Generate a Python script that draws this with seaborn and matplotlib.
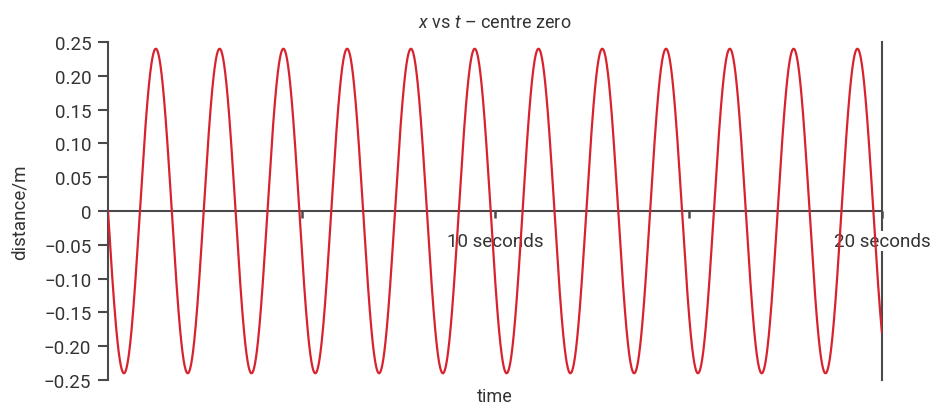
import numpy as np
import pandas as pd
import matplotlib
matplotlib.use("Agg")
import matplotlib.pyplot as plt
import seaborn as sns

# Oscillation parameters
amplitude_m = 0.24
period_s = 1.648
duration_s = 20.0

# Axis ticks and labels
y_ticks = [-0.25, -0.20, -0.15, -0.10, -0.05, 0, 0.05, 0.10, 0.15, 0.20, 0.25]
y_tick_labels = ["\u22120.25", "\u22120.20", "\u22120.15", "\u22120.10", "\u22120.05",
                 "0", "0.05", "0.10", "0.15", "0.20", "0.25"]
x_ticks = [5, 10, 15, 20]
x_tick_labels = ["", "10 seconds", "", "20 seconds"]

t = np.linspace(0, duration_s, 4000)
x = -amplitude_m * np.sin(2 * np.pi * t / period_s)
df = pd.DataFrame({"time": t, "distance": x})

sns.set_style("white")
plt.rcParams["font.family"] = ["Roboto", "DejaVu Sans"]
plt.rcParams["mathtext.fontset"] = "custom"
plt.rcParams["mathtext.it"] = "Roboto:italic"
plt.rcParams["mathtext.rm"] = "Roboto"

text_col = "#333333"
axis_col = "#4a4a4a"

fig = plt.figure(figsize=(9.34, 4.06), dpi=100)
ax = fig.add_axes([108 / 934, 1 - 381 / 406, (882 - 108) / 934, (381 - 43) / 406])

sns.lineplot(data=df, x="time", y="distance", ax=ax, color="#d8232f",
             linewidth=1.6, zorder=3)

ax.set_xlim(0, duration_s)
ax.set_ylim(-0.25, 0.25)

# zero line carries the time axis
ax.spines["bottom"].set_position(("data", 0))
ax.spines["top"].set_visible(False)
for side in ("left", "right", "bottom"):
    ax.spines[side].set_color(axis_col)
    ax.spines[side].set_linewidth(1.5)
ax.spines["right"].set_zorder(1)
ax.spines["left"].set_zorder(2.5)
ax.spines["bottom"].set_zorder(2.5)
ax.xaxis.set_zorder(1.5)

ax.set_yticks(y_ticks)
ax.set_yticklabels(y_tick_labels)
ax.set_xticks(x_ticks)
ax.set_xticklabels(x_tick_labels)

ax.tick_params(axis="y", direction="out", length=7, width=1.5, color=axis_col,
               labelsize=13.5, labelcolor=text_col, pad=5, left=True)
ax.tick_params(axis="x", direction="out", length=5, width=1.8, color=axis_col,
               labelsize=13.5, labelcolor=text_col, pad=10, bottom=True)
for lbl in ax.get_xticklabels():
    lbl.set_bbox(dict(facecolor="white", edgecolor="none", pad=1))

ax.set_xlabel("time", fontsize=13, color=text_col)
ax.xaxis.set_label_coords(0.5, -0.022)
ax.set_ylabel("distance/m", fontsize=13.5, color=text_col)
ax.yaxis.set_label_coords(-0.103, 0.5)

ax.set_title("$x$ vs $t$ \u2013 centre zero", fontsize=13, color=text_col, pad=11)

fig.savefig("out.png", dpi=100, facecolor="white")
